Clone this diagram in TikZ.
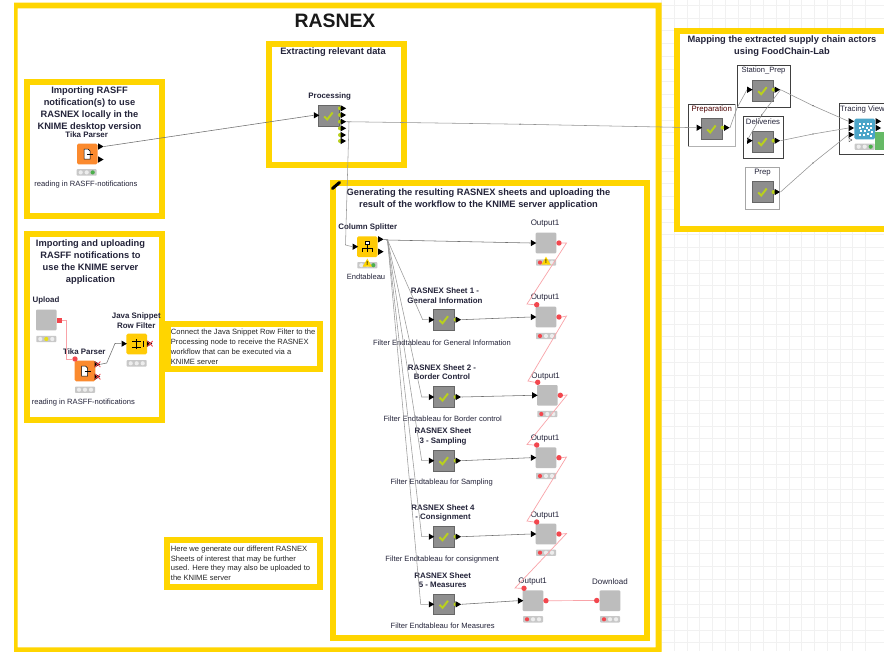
\documentclass[tikz,border=0pt]{standalone}
\usepackage{fontspec}
\setmainfont{Liberation Sans}
\usetikzlibrary{shapes.geometric,shapes.misc}
\definecolor{yel}{HTML}{FFD500}
\definecolor{gridc}{HTML}{F1F1F1}
\definecolor{ink}{HTML}{24243A}
\definecolor{lnk}{HTML}{6E6E6E}
\definecolor{plink}{HTML}{F9A3A8}
\definecolor{dotred}{HTML}{F2474E}
\definecolor{grybody}{HTML}{BDBDBD}
\definecolor{metab}{HTML}{8E8E8E}
\definecolor{lime}{HTML}{B9D01E}
\definecolor{orng}{HTML}{FB8A2E}
\definecolor{kyel}{HTML}{FFCB05}
\definecolor{kblue}{HTML}{4BA5C8}
\definecolor{pill}{HTML}{C8C8C8}
\definecolor{lgt}{HTML}{EDEDED}
\tikzset{
  x=1pt,y=-1pt,
  frm/.style={draw=yel,line width=6pt,fill=white},
  box/.style={rectangle,inner sep=0,minimum width=20.6pt,minimum height=20.6pt},
  grybox/.style={box,fill=grybody,rounded corners=1pt},
  metabox/.style={box,fill=metab,draw=#1,line width=.7pt},
  metabox/.default={black!60},
  clrbox/.style={box,fill=#1,rounded corners=1.5pt},
  ttl/.style={font=\bfseries\fontsize{9.3}{11.8}\selectfont,text=ink,align=center,inner sep=0},
  lab/.style={font=\bfseries\fontsize{7.9}{9.5}\selectfont,text=ink,align=center,inner sep=0},
  outl/.style={font=\fontsize{8}{9}\selectfont,text=ink,align=center,inner sep=0},
  capt/.style={font=\fontsize{7.6}{9}\selectfont,text=ink,align=center,inner sep=0},
  nte/.style={font=\fontsize{7.6}{9.9}\selectfont,text=black!85,align=left,anchor=west,inner sep=0},
  tri/.style={isosceles triangle,isosceles triangle apex angle=60,fill=black,inner sep=0,minimum height=5.4pt,minimum width=5.4pt},
  dot/.style={circle,fill=dotred,inner sep=0,minimum size=5.4pt},
  lim/.style={circle,fill=lime,inner sep=0,minimum size=4pt},
  xport/.style={cross out,draw=dotred,line width=.8pt,inner sep=0,minimum size=4.6pt},
  lnkl/.style={draw=lnk,line width=.55pt},
  vlnk/.style={draw=gray!80,line width=.55pt},
  plnk/.style={draw=plink,line width=.7pt},
  mdot/.style={circle,fill=black!70,inner sep=0,minimum size=1.4pt},
  chk/.style={draw=lime,line width=2pt},
  pillb/.style={rectangle,fill=pill,rounded corners=.8pt,inner sep=0,minimum width=20pt,minimum height=6.4pt},
  wrapb/.style={draw=#1,fill=white,line width=.8pt},
  wrapb/.default={black!75},
}
% name x y
\newcommand\metanode[3]{%
  \node[metabox] (#1) at (#2,#3) {};
  \draw[chk] ([shift={(-4.5,0.5)}]#1.center) -- ++(3,3) -- ++(5.5,-7);}
% traffic light: name x y c1 c2 c3
\newcommand\tlight[6]{%
  \node[pillb] (#1) at (#2,#3) {};
  \fill[#4] ([xshift=-6pt]#1.center) circle (2.1pt);
  \fill[#5] (#1.center) circle (2.1pt);
  \fill[#6] ([xshift=6pt]#1.center) circle (2.1pt);}
\newcommand\warn[2]{%
  \node[regular polygon,regular polygon sides=3,fill=yel,inner sep=0,minimum size=9.5pt,font=\bfseries\fontsize{5.5}{5}\selectfont] (#1) at (#2) {!};}
\begin{document}
\begin{tikzpicture}
\clip (0,0) rectangle (884,651);
\fill[white] (0,0) rectangle (884,651);
% canvas grid
\foreach \gx in {0,...,16} \draw[gridc,line width=.9pt] ({661.5+\gx*12.75},0) -- ({661.5+\gx*12.75},651);
\foreach \gy in {0,...,51} \draw[gridc,line width=.9pt] (662,{5.3+\gy*12.75}) -- (884,{5.3+\gy*12.75});
% outer frame
\fill[yel,even odd rule] (14,2.7) rectangle (661.7,656) (17.7,8.3) rectangle (655.7,647.3);
% section frames
\draw[frm] (27.3,82) rectangle (162,216.3);
\draw[frm] (269,43.7) rectangle (403.7,165.3);
\draw[frm] (27.3,234) rectangle (162,420.3);
\draw[frm] (167.5,324) rectangle (320.3,369);
\draw[frm] (167,540.3) rectangle (320.3,587);
\draw[frm] (333,183) rectangle (646.7,637.7);
\draw[frm] (677,31) rectangle (895,229.3);
% pencil
\draw[black,line width=3pt,line cap=round] (332.5,188.5) -- (339.5,182.5);
% titles
\node[font=\bfseries\fontsize{19.4}{22}\selectfont,text=black!90,inner sep=0] (tMain) at (335,20.7) {RASNEX};
\node[ttl] (tExtract) at (333,52.5) {Extracting relevant data};
\node[ttl] (tImp1) at (89.5,109) {Importing RASFF\\notification(s) to use\\RASNEX locally in the\\KNIME desktop version};
\node[ttl] (tImp2) at (90.5,262.2) {Importing and uploading\\RASFF notifications to\\use the KNIME server\\application};
\node[ttl] (tGen) at (478.5,199.2) {Generating the resulting RASNEX sheets and uploading the\\result of the workflow to the KNIME server application};
\node[ttl] (tMap) at (782,46) {Mapping the extracted supply chain actors\\using FoodChain-Lab};
% notes
\node[nte] (nConn) at (170.7,346.5) {Connect the Java Snippet Row Filter to the\\Processing node to receive the RASNEX\\workflow that can be executed via a\\KNIME server};
\node[nte] (nGen) at (170.7,563.3) {Here we generate our different RASNEX\\Sheets of interest that may be further\\used. Here they may also be uploaded to\\the KNIME server};

% --- Tika parser (desktop)
\node[clrbox=orng] (tika) at (87.3,154) {};
\node[tri] (tikaO) at (100,146.5) {};
\node[tri] (tikaO2) at (100,159.5) {};
\tlight{tikaL}{86.7}{172.4}{lgt}{lgt}{green!55!black!70}
\node[lab] (tikaN) at (86.7,134.7) {Tika Parser};
\node[capt] (tikaC) at (86,185) {reading in RASFF-notifications};
\draw[black,fill=white,line width=.5pt] (84,149) -- (88,149) -- (90,151) -- (90,159) -- (84,159) -- cycle;
\draw[black,line width=.7pt] (87,154) -- (93,154);
% --- Processing
\metanode{proc}{328.7}{116}
\node[lab] (procN) at (329.7,96.3) {Processing};
\node[tri] (procI) at (315.7,115.3) {};
\foreach \py/\pn in {108.3/a,115/b,121.7/c,128.3/d,135/e,141/f}{
  \node[lim] at (340,\py) {};
  \node[tri] (procO\pn) at (342.5,\py) {};}
\draw[lnkl] (tikaO.east) -- (procI.west);

% --- Upload branch
\node[grybox] (upl) at (46.3,320) {};
\node[rectangle,fill=dotred,inner sep=0,minimum size=5pt] (uplO) at (59.3,320) {};
\tlight{uplL}{46.3}{339}{lgt}{yellow!90!black}{lgt}
\node[lab] (uplN) at (46,300.7) {Upload};
\node[clrbox=orng] (tikb) at (85,371) {};
\node[dot] (tikbI) at (75,359) {};
\node[tri] (tikbOa) at (96.5,364.3) {};
\node[xport] (tikbXa) at (97.7,364.3) {};
\node[tri] (tikbOb) at (96.5,376.7) {};
\node[xport] (tikbXb) at (97.7,376.7) {};
\tlight{tikbL}{85}{389.7}{lgt}{lgt}{lgt}
\node[lab] (tikbN) at (84.3,351.7) {Tika Parser};
\node[capt] (tikbC) at (83.3,402.3) {reading in RASFF-notifications};
\draw[black,fill=white,line width=.5pt] (81.5,366) -- (85.5,366) -- (87.5,368) -- (87.5,376) -- (81.5,376) -- cycle;
\draw[black,line width=.7pt] (84.5,371) -- (90.5,371);
\node[clrbox=kyel] (java) at (136.7,344) {};
\node[tri] (javaI) at (123.3,343.7) {};
\node[tri] (javaO) at (148.7,343.7) {};
\node[xport] (javaX) at (150,343.7) {};
\tlight{javaL}{136.7}{363.3}{lgt}{lgt}{lgt}
\node[lab] (javaN) at (136.3,320.5) {Java Snippet\\Row Filter};
\draw[black,line width=.6pt] (132,341) -- (141,341) (132,347) -- (141,347) (136.5,339) -- (136.5,349) (143,341) -- (143,347);
\draw[plnk] (uplO.east) -- (66,320) -- (66,359) -- (tikbI.west);
\draw[lnkl] (tikbXa.east) -- (106.7,363) -- (115,343.5) -- (javaI.west);

% --- Column splitter
\node[clrbox=kyel] (split) at (367.3,246.7) {};
\node[tri] (splitI) at (354.5,246.7) {};
\node[tri] (splitO) at (380,239.3) {};
\node[tri] (splitO2) at (380,251.7) {};
\tlight{splitL}{367.3}{265.2}{lgt}{lgt}{green!55!black!70}
\warn{splitW}{367.3,264}
\node[lab] (splitN) at (367.7,227.7) {Column Splitter};
\node[capt] (splitC) at (366,277) {Endtableau};
\draw[black,fill=white,line width=.4pt] (365.3,241) rectangle (369.3,244.5);
\draw[black,line width=.9pt] (362,252) -- (362,248) -- (372.5,248) -- (372.5,252) (367.3,244.5) -- (367.3,252);
\draw[vlnk] (procOc.east) -- (349,122) -- (345.5,245) -- (splitI.west);

% --- Sheet metanodes
\foreach \mname/\my in {mA/319.7,mB/397,mC/460.7,mD/536.7,mE/604.3}{
  \metanode{\mname}{444}{\my}
  \node[tri] (\mname I) at (430.6,\my) {};
  \node[lim] at (455.5,\my) {};
  \node[tri] (\mname O) at (457.5,\my) {};}
\node[lab] (mAN) at (445,295.9) {RASNEX Sheet 1 -\\General Information};
\node[capt] (mAC) at (442,342.3) {Filter Endtableau for General Information};
\node[lab] (mBN) at (442,372.3) {RASNEX Sheet 2 -\\Border Control};
\node[capt] (mBC) at (442.7,419) {Filter Endtableau for Border control};
\node[lab] (mCN) at (443,436.3) {RASNEX Sheet\\3 - Sampling};
\node[capt] (mCC) at (441.7,482.7) {Filter Endtableau for Sampling};
\node[lab] (mDN) at (443,513) {RASNEX Sheet 4\\- Consignment};
\node[capt] (mDC) at (442.3,559.7) {Filter Endtableau for consignment};
\node[lab] (mEN) at (442.7,580) {RASNEX Sheet\\5 - Measures};
\node[capt] (mEC) at (442.7,626) {Filter Endtableau for Measures};

% --- Outputs
\foreach \oname/\ox/\oy/\olx/\oly/\oix/\otx/\oty in {
 oA/546/243/545/224/532.7/546/262.5,
 oB/546/317/545/297.7/532.7/546/336,
 oC/547.3/395.3/545.7/376.7/534/547.3/414,
 oD/546/457.7/545/438.7/532.7/546/476,
 oE/546/534/545/515.3/532.7/546/552.7,
 oF/533/600.7/532.7/581.3/519.7/533/619.3}{
  \node[grybox] (\oname) at (\ox,\oy) {};
  \node[tri] (\oname I) at (\oix,\oy) {};
  \node[dot] (\oname O) at ({\ox+13},\oy) {};
  \node[outl] (\oname N) at (\olx,\oly) {Output1};
  \tlight{\oname L}{\otx}{\oty}{dotred}{lgt}{lgt}}
\warn{oAW}{546,262}
\node[dot] (oBT) at (536.7,304.7) {};
\node[dot] (oCT) at (537.7,382.3) {};
\node[dot] (oDT) at (536.7,445) {};
\node[dot] (oET) at (536.7,522) {};
\node[dot] (oFT) at (524,588.3) {};
\node[grybox] (dwn) at (610,600.7) {};
\node[dot] (dwnI) at (596.7,600.5) {};
\tlight{dwnL}{610}{619.3}{dotred}{lgt}{lgt}
\node[outl] (dwnN) at (610,581.3) {Download};

% connectors: splitter to sheets
\draw[lnkl] (splitO.east) -- (387.5,240) -- (oAI.west);
\foreach \mname/\kx in {mA/422.7,mB/421.7,mC/421.7,mD/421.7,mE/420.7}
  \draw[vlnk] (splitO.east) -- (387.5,240) -- (\kx,0 |- \mname I.west) -- (\mname I.west);
\draw[lnkl] (mAO.east) -- (oBI.west);
\draw[lnkl] (mBO.east) -- (oCI.west);
\draw[lnkl] (mCO.east) -- (oDI.west);
\draw[lnkl] (mDO.east) -- (oEI.west);
\draw[lnkl] (mEO.east) -- (oFI.west);
% flow variable links
\draw[plnk] (oAO.east) -- (566.5,243) -- (527,304) -- (oBT.west);
\draw[plnk] (oBO.east) -- (566.5,316) -- (528,381) -- (oCT.west);
\draw[plnk] (oCO.east) -- (567,395) -- (527,444.5) -- (oDT.west);
\draw[plnk] (oDO.east) -- (566.5,457) -- (527,521) -- (oET.west);
\draw[plnk] (oEO.east) -- (566.5,533.5) -- (515,588) -- (oFT.west);
\draw[plnk] (oFO.east) -- (dwnI.west);

% --- FoodChain-Lab wrapper
\fill[white] (688.3,104) rectangle (735,146);
\draw[black!75,line width=.8pt] (688.3,146) -- (688.3,104) -- (735,104);
\draw[black!30,line width=.8pt] (688.3,146) -- (735,146) -- (735,104);
\metanode{prepa}{711.7}{129}
\node[tri] (prepaI) at (698.5,127.7) {};
\node[lim] at (722.5,127.7) {};
\node[tri] (prepaO) at (726,127.7) {};
\node[lab,font=\fontsize{7.8}{9}\selectfont,text=black!70!red] (prepaN) at (711.7,109.3) {Preparation};

\draw[wrapb] (737,65.3) rectangle (790,107.7);
\metanode{stat}{762.7}{90.7}
\node[tri] (statI) at (749,89.7) {};
\node[lim] at (773.5,89.7) {};
\node[tri] (statO) at (776.5,89.7) {};
\node[lab,font=\fontsize{7.6}{9}\selectfont] (statN) at (763.5,70.7) {Station\_Prep};

\draw[wrapb] (743,116.7) rectangle (783.3,158.3);
\metanode{deli}{762.7}{141.7}
\node[tri] (deliI) at (749,140.7) {};
\node[lim] at (773.5,140.7) {};
\node[tri] (deliO) at (776.5,140.7) {};
\node[lab,font=\fontsize{7.8}{9}\selectfont] (deliN) at (763,122) {Deliveries};

\draw[wrapb=black!35] (745.7,167.7) rectangle (779.3,209);
\metanode{prp}{762.7}{192}
\node[lim] at (773.5,192) {};
\node[tri] (prpO) at (776.5,192) {};
\node[lab,font=\fontsize{7.8}{9}\selectfont] (prpN) at (762.5,173) {Prep};

\draw[wrapb] (839,103.7) rectangle (895,154);
\node[clrbox=kblue] (trace) at (864.7,129) {};
\foreach \qx/\qy in {-6/-6,-2/-6,2/-6,5/-6,-6/-2,-3/-3,1/-2,5/-2,-5/1,-1/1,3/0,6/2,-6/5,-2/5,2/4,5/6}
  \fill[white] ([shift={(\qx,\qy)}]trace.center) rectangle +(2.2,2.2);
\node[tri] (traceIa) at (850.5,121.3) {};
\node[tri] (traceIb) at (850.5,128) {};
\node[tri] (traceIc) at (850.5,134.7) {};
\node[regular polygon,regular polygon sides=3,shape border rotate=-90,draw=black!70,fill=white,inner sep=0,minimum size=4pt,line width=.4pt] (traceD) at (850,140) {};
\node[tri] (traceOa) at (877.5,121.3) {};
\node[tri] (traceOb) at (877.5,128) {};
\fill[green!55!black!60] (875.3,131.7) rectangle (884,150);
\tlight{traceL}{864.7}{146.7}{lgt}{lgt}{green!55!black!70}
\node[lab,font=\fontsize{7.8}{9}\selectfont,anchor=west] (traceN) at (840,109) {Tracing View};

\coordinate (kp) at (520,124.2);
\draw[lnkl,draw=gray!85] (procOc.east) -- (kp) -- (prepaI.west);
\node[mdot] at (kp) {};
\draw[lnkl,draw=gray!85] (prepaO.east) -- (737,108) -- (statI.west);
\coordinate (kd) at (761.7,115);
\draw[lnkl,draw=gray!85] (statO.east) -- (kd) -- (deliI.west);
\node[mdot] at (kd) {};
\foreach \sn/\tn/\mx/\my in {statO/traceIa/813/105.7,deliO/traceIb/813/134,prpO/traceIc/813/163}{
  \coordinate (m\sn) at (\mx,\my);
  \draw[lnkl,draw=gray!85] (\sn.east) -- (m\sn) -- (\tn.west);
  \node[mdot] at (m\sn) {};}
\end{tikzpicture}
\end{document}
